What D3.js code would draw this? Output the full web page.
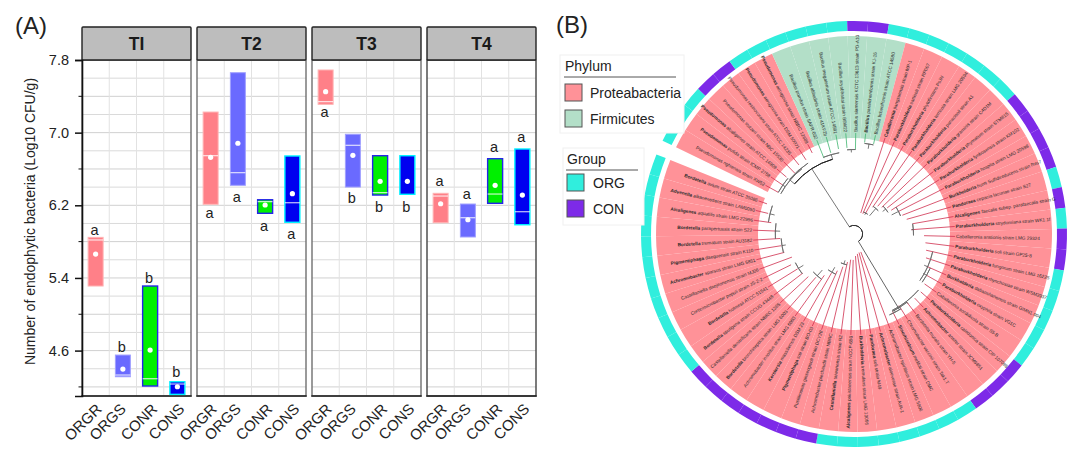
<!DOCTYPE html>
<html><head><meta charset="utf-8">
<script src="https://cdn.jsdelivr.net/npm/d3@7"></script>
<style>html,body{margin:0;padding:0;background:#fff}text{font-family:"Liberation Sans",Arial,sans-serif}</style>
</head><body><svg id="c" width="1080" height="460"></svg>
<script>
// ---------- Panel A data ----------
const panels = ["TI","T2","T3","T4"];
const categories = ["ORGR","ORGS","CONR","CONS"];
const yTicks = [4.6,5.4,6.2,7.0,7.8];
const boxTop = [[5.847,4.551,5.311,4.257],[7.227,7.66,6.261,6.743],[7.69,6.982,6.746,6.746],[6.332,6.214,6.713,6.82]];
const boxBottom = [[5.311,4.312,4.21,4.118],[6.211,6.42,6.112,6.013],[7.312,6.401,6.313,6.321],[6.008,5.851,6.222,5.986]];
const boxMean = [[5.663,4.397,4.606,4.202],[6.728,6.883,6.203,6.328],[7.451,6.75,6.464,6.464],[6.217,6.041,6.42,6.313]];
const boxMedian = [[5.818,4.331,4.29,4.232],[6.746,6.559,6.24,6.228],[7.341,6.861,6.339,null],[6.302,6.063,6.324,6.129]];
const sigLetters = [["a","b","b","b"],["a","a","a","a"],["a","b","b","b"],["a","a","a","a"]];
const sigHeight = [[5.928,4.64,5.402,4.364],[6.115,6.295,5.972,5.884],[7.227,6.28,6.184,6.184],[6.467,6.324,6.839,6.952]];
const catFill = ["#ff8088","#6a6aff","#00f000","#0000f0"];
const catStroke = ["#ffb4b4","#a0a0ff","#2424e8","#00f4ff"];

// ---------- Panel B data ----------
const leafNames = [
"Pseudomonas nghiensis strain XW52","Pseudomonas putida strain ICMP 2758","Pseudomonas alcaligenes strain ATCC 14909","Pseudomonas stutzeri strain NBC 15530","Pseudomonas resinovorans strain ATCC 14235","Pseudomonas aeruginosa strain DSM 50071","Pseudomonas aeruginosa strain NBRC 12689",
"Bacillus pumilus strain SAFR-032","Bacillus altitudinis strain 41KF2b","Bacillus megaterium strain ATCC 14581","Bacillus aryabhattai strain B8W22","Bacillus siamensis KCTC 13613 strain PD-A10","Bacillus paralicheniformis strain KJ-16","Bacillus licheniformis strain ATCC 14580",
"Caballeronia jiangsuensis strain MP-1","Paraburkholderia sartisoli strain RP007","Paraburkholderia phytofirmans PsJN","Paraburkholderia terricola strain LMG 20594","Paraburkholderia panacisoli strain A1","Paraburkholderia graminis strain C4D1M","Paraburkholderia phymatum strain STM815","Paraburkholderia fynbosensis strain KM102","Paraburkholderia hospita strain LMG 20598","Burkholderia humi Sulfidireducens strain Res7","Pandoraea cepacia lacunae strain S27","Alcaligenes faecalis subsp. parafaecalis strain G",
"Paraburkholderia strydomiana strain WK1.1f","Caballeronia arationis strain LMG 29324","Paraburkholderia soli strain GP25-8","Paraburkholderia fungorum strain LMG 16225","Paraburkholderia rhynchosiae strain WSM3937","Burkholderia dabaoshanensis strain GIMN1.004","Paraburkholderia oxyphila strain VG1C","Caballeronia sordidicola strain S5-B","Paraburkholderia caledonica strain CIP 107098",
"Achromobacter anxifer strain JCM9851","Bordetella muralis strain YH-5","Chromobacter vaccinii strain Tak1.T","Sinorhizobium meliloti strain DMC","Achromobacter spiritinus strain LMG 5906","Achromobacter aloeverae strain AVA-1","Pandoraea soli strain M49","Burkholderia tremulans strain LMG 13066",
"Alcaligenes pakistanensis strain NCCP-650","Castellaniella taiwanensis strain R2","Achromobacter piechaudii strain NBRC","Pusillimonas ginsengisoli strain DCY28","Pigmentiphaga soli strain BO-03","Kerstersia massiliensis DSM 23","Achromobacter insolitus strain LMG 6003","Bordetella bronchiseptica strain LMG 6003","Castellaniella denitrificans strain NBRC 1365","Bordetella sputigena strain CCUG 43448","Bordetella holmesii ATCC 51541","Corticimicrobacter populi strain JS-2-2","Castellaniella daejeonensis strain MJ06","Achromobacter sparsus strain LMG 5851","Pigmentiphaga daeguensis strain K110","Bordetella trematum strain AU3182","Bordetella parapertussis strain S22","Alcaligenes aquatilis strain LMG 22996","Advenella alkanexedens strain LAM0050","Bordetella avium strain ATCC 35086"
];
const boldLeaves = [1,2,5,6,12,14,15,16,17,18,19,20,21,22,23,24,25,26,28,29,30,31,32,34,35,38,40,41,42,43,44,47,48,50,52,53,56,57,58,59,60,61,62];
const firmicutesLeaves = [7,8,9,10,11,12,13];
const conLeaves = [3,4,11,12,20,21,22,23,25,27,28,34,35,36,45,46,47,48,49,50,51];
const leafDepth = [.90,.90,.92,.88,.92,.92,.95,.85,.88,.90,.90,.88,.96,.96,
.23,.23,.25,.34,.38,.40,.44,.46,.52,.54,.57,.62,.60,.73,.75,.77,.79,.83,.87,.90,.92,.92,.90,.88,.90,.20,.20,.21,.23,.27,.27,.30,.36,.42,.47,.53,.60,.65,.67,.69,.73,.69,.75,.77,.77,.81,.87,.92,.96];
// clades: first leaf, last leaf, depth, parent depth
const cladeFrom = [2,0,0,2,7,10,12,15,17,19,21,25,31,29,36,34,37,45,47,49,52,56,58,60];
const cladeTo   = [8,4,2,5,9,11,13,17,19,21,23,27,33,33,38,38,38.5,47,49,51,54,58,60,62];
const cladeDepth= [.81,.87,.90,.88,.86,.88,.95,.25,.35,.42,.52,.62,.87,.84,.90,.89,.92,.33,.46,.58,.68,.76,.82,.90];
const cladeParent=[.09,.81,.87,.87,.81,.85,.90,.23,.25,.38,.44,.60,.83,.80,.89,.92,.90,.29,.40,.50,.62,.72,.77,.85];
const rootFrom = -33, rootTo = 149, rootDepth = .09;

const svg = d3.select("#c");

// ---------- Panel A ----------
const y = d3.scaleLinear().domain([4.1,7.8]).range([396,60]);
const panelW = 109, panelStep = 115;
const minorTicks = d3.range(4.2,7.81,0.2).map(v=>+v.toFixed(1));
const labelShift = [7,4,8,8];
panels.forEach((p,pi)=>{
  const x0 = 82 + pi*panelStep;
  const g = svg.append("g").attr("transform",`translate(${x0},0)`);
  const x = d3.scaleBand().domain(categories).range([0,panelW]).paddingInner(.45).paddingOuter(.225);
  g.selectAll("line.h").data(minorTicks).join("line").attr("x1",0).attr("x2",panelW)
    .attr("y1",d=>y(d)).attr("y2",d=>y(d))
    .attr("stroke",d=>Math.round(d*10)%4===2?"#d0d0d0":"#dadada").attr("stroke-width",1);
  g.selectAll("line.v").data(d3.range(1,4)).join("line").attr("y1",60).attr("y2",396)
    .attr("x1",d=>d*x.step()).attr("x2",d=>d*x.step()).attr("stroke","#e2e2e2").attr("stroke-width",1);
  g.append("rect").attr("x",0).attr("y",60).attr("width",panelW).attr("height",336)
    .attr("fill","none").attr("stroke",pi===3?"#444":"#707070").attr("stroke-width",1.4);
  g.append("rect").attr("x",0).attr("y",27).attr("width",panelW).attr("height",33).attr("rx",1)
    .attr("fill","#bdbdbd").attr("stroke","#222").attr("stroke-width",1.4);
  g.append("text").attr("x",panelW/2).attr("y",50).attr("text-anchor","middle")
    .attr("font-size",17.5).attr("font-weight","bold").attr("fill","#1a1a1a").text(p);
  g.append("line").attr("x1",-.7).attr("x2",panelW+.7).attr("y1",396).attr("y2",396).attr("stroke","#222").attr("stroke-width",1.5);
  categories.forEach((c,ci)=>{
    const bx = x(c), bw = x.bandwidth();
    g.append("rect").attr("x",bx).attr("y",y(boxTop[pi][ci])).attr("width",bw)
      .attr("height",y(boxBottom[pi][ci])-y(boxTop[pi][ci]))
      .attr("fill",catFill[ci]).attr("stroke",catStroke[ci]).attr("stroke-width",ci>1?1.4:1);
    if(boxMedian[pi][ci]!==null)
      g.append("line").attr("x1",bx).attr("x2",bx+bw).attr("y1",y(boxMedian[pi][ci])).attr("y2",y(boxMedian[pi][ci]))
        .attr("stroke","#fff").attr("stroke-opacity",.85).attr("stroke-width",1.1);
    g.append("circle").attr("cx",bx+bw/2).attr("cy",y(boxMean[pi][ci])).attr("r",2.6).attr("fill","#fff");
    g.append("text").attr("x",bx+bw/2-1).attr("y",y(sigHeight[pi][ci])).attr("dy",".35em")
      .attr("text-anchor","middle").attr("font-size",14.5).attr("fill","#222").text(sigLetters[pi][ci]);
    g.append("text").attr("text-anchor","end").attr("font-size",15).attr("fill","#222")
      .attr("transform",`translate(${bx+bw/2+labelShift[ci]},${410}) rotate(-45)`).text(c);
  });
});
const axG = svg.append("g").attr("transform","translate(82,0)");
axG.call(d3.axisLeft(y).tickValues(yTicks).tickSize(7).tickPadding(6).tickFormat(d3.format(".1f")));
axG.select(".domain").attr("stroke","#111").attr("stroke-width",1.6);
axG.selectAll(".tick line").attr("stroke","#111").attr("stroke-width",1.5);
axG.selectAll(".tick text").attr("font-size",14.5).attr("fill","#222").style("font-family","Liberation Sans");
axG.selectAll("line.minor").data([4.2,5.0,5.8,6.6,7.4]).join("line").attr("class","minor")
  .attr("x1",-3.5).attr("x2",0).attr("y1",d=>y(d)).attr("y2",d=>y(d)).attr("stroke","#111").attr("stroke-width",1);
svg.append("text").attr("transform","translate(35,221.5) rotate(-90)").attr("text-anchor","middle")
  .attr("font-size",14).attr("fill","#222").text("Number of endophytic bacteria (Log10 CFU/g)");
svg.append("text").attr("x",15).attr("y",34).attr("font-size",24).attr("fill","#222").text("(A)");
svg.append("text").attr("x",556).attr("y",33).attr("font-size",24).attr("fill","#222").text("(B)");

// ---------- Panel B ----------
const cx=854, cy=234, N=leafNames.length;
const root = svg.append("g").attr("transform",`translate(${cx},${cy})`);
const angle = d3.scaleLinear().domain([0,N]).range([-64,-64+5.65*N]);
const rad = d=>d*Math.PI/180;
const rScale = d3.scaleLinear().domain([0,1]).range([0,96]);
const arc = d3.arc();
const idx = d3.range(N);
root.selectAll("path.bg").data(idx).join("path").attr("d",i=>arc({innerRadius:96,outerRadius:198,startAngle:rad(angle(i)),endAngle:rad(angle(i+1))}))
  .attr("fill",i=>firmicutesLeaves.includes(i)?"#b3dfc8":"#ff9298");
root.selectAll("path.ring").data(idx).join("path").attr("d",i=>arc({innerRadius:203,outerRadius:213,startAngle:rad(angle(i)),endAngle:rad(angle(i+1))}))
  .attr("fill",i=>conLeaves.includes(i)?"#7d2ae8":"#30eedd");
const lr = d3.lineRadial().angle(d=>rad(d[0])).radius(d=>d[1]);
root.selectAll("path.leaf").data(idx).join("path")
  .attr("d",i=>{const a=angle(i+.5);return lr([[a,rScale(leafDepth[i])],[a,101]]);})
  .attr("fill","none").attr("stroke",i=>firmicutesLeaves.includes(i)?"#3fb56f":"#cf2f4e").attr("stroke-width",.8);
cladeFrom.forEach((f,k)=>{
  const a0=angle(f+.5),a1=angle(cladeTo[k]+.5),r=rScale(cladeDepth[k]),am=(a0+a1)/2;
  root.append("path").attr("d",arc({innerRadius:r,outerRadius:r,startAngle:rad(a0),endAngle:rad(a1)}))
    .attr("fill","none").attr("stroke",k===0?"#222":"#666").attr("stroke-width",k===0?1:.8);
  root.append("path").attr("d",lr([[am,rScale(cladeParent[k])],[am,r]])).attr("fill","none").attr("stroke","#555").attr("stroke-width",.8);
});
const rr=rScale(rootDepth);
root.append("path").attr("d",arc({innerRadius:rr,outerRadius:rr,startAngle:rad(rootFrom),endAngle:rad(rootTo)})).attr("fill","none").attr("stroke","#333").attr("stroke-width",1);
root.append("path").attr("d",lr([[rootTo,rr],[rootTo,rScale(.92)]])).attr("fill","none").attr("stroke","#666").attr("stroke-width",1);
root.selectAll("text.leaf").data(idx).join("text").attr("class","leaf")
  .attr("font-size",4.7).attr("fill","#2a2a2a")
  .attr("transform",i=>{const a=angle(i+.5);return a>180||a<0?`rotate(${a-90}) translate(102,0) rotate(180)`:`rotate(${a-90}) translate(102,0)`;})
  .attr("dy",".35em").attr("text-anchor",i=>{const a=angle(i+.5);return a>180||a<0?"end":"start";})
  .each(function(i){
    const t=d3.select(this),parts=leafNames[i].split(" ");
    t.append("tspan").attr("font-weight",boldLeaves.includes(i)?"bold":"normal").text(parts[0]+" ");
    t.append("tspan").text(parts.slice(1).join(" "));
  });

// ---------- Legends ----------
const phylumNames=["Proteabacteria","Firmicutes"], phylumColors=["#ff9298","#b3dfc8"];
const groupNames=["ORG","CON"], groupColors=["#30eedd","#7d2ae8"];
function legend(x,y0,w,h,title,lineW,names,cols,sx,tx,rowStart,rowStep,sw){
  const g=svg.append("g");
  g.append("rect").attr("x",x).attr("y",y0).attr("width",w).attr("height",h).attr("fill","#fff").attr("stroke","#f0f0f0");
  g.append("text").attr("x",sx).attr("y",y0+16).attr("font-size",14).attr("fill","#222").text(title);
  g.append("line").attr("x1",sx-1).attr("x2",sx-1+lineW).attr("y1",y0+22).attr("y2",y0+22).attr("stroke","#555").attr("stroke-width",1);
  names.forEach((n,i)=>{
    const yy=rowStart+i*rowStep;
    g.append("rect").attr("x",sx).attr("y",yy).attr("width",sw).attr("height",sw).attr("fill",cols[i]).attr("stroke","#555").attr("stroke-width",1);
    g.append("text").attr("x",tx).attr("y",yy+sw/2+5).attr("font-size",14).attr("fill","#222").text(n);
  });
}
legend(560,55,124,78,"Phylum",112,phylumNames,phylumColors,565,590,84,26,17);
legend(563,148,81,77,"Group",72,groupNames,groupColors,567,593,174,26,17);
</script></body></html>
